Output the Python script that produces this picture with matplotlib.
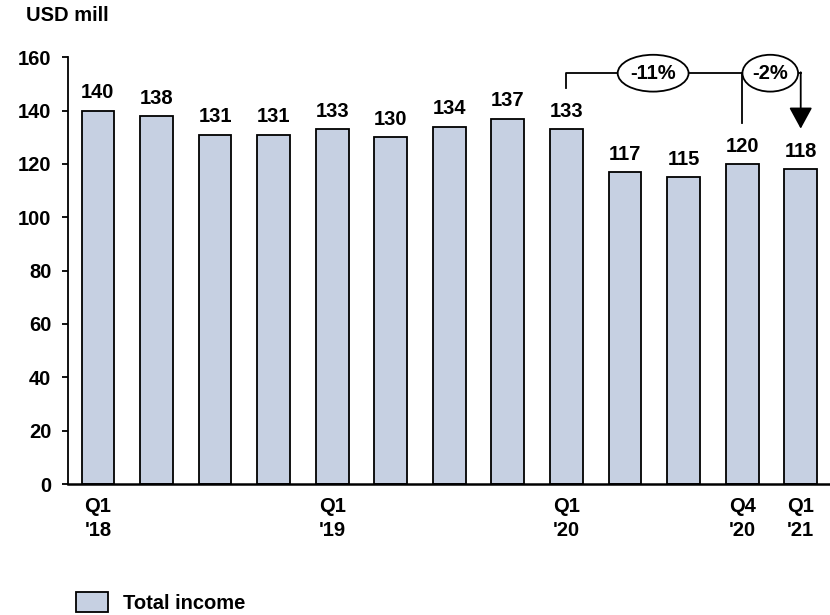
import matplotlib.pyplot as plt
from matplotlib.patches import Ellipse, Patch

plt.rcParams['font.family'] = ['Liberation Sans', 'DejaVu Sans']
plt.rcParams['font.weight'] = 'bold'

# Quarterly total income, Q1 2018 .. Q1 2021
quarters = ["Q1\n'18", "", "", "", "Q1\n'19", "", "", "", "Q1\n'20", "", "", "Q4\n'20", "Q1\n'21"]
income = [140, 138, 131, 131, 133, 130, 134, 137, 133, 117, 115, 120, 118]
changes = ["-11%", "-2%"]

FS = 14.5
BAR_COLOR = '#C6D0E2'

fig = plt.figure(figsize=(8.3, 6.15), dpi=100)
ax = fig.add_axes([0.082, 0.213, 0.918, 0.694])

x = range(len(income))
ax.bar(x, income, width=0.56, color=BAR_COLOR, edgecolor='black', linewidth=1.3)

for xi, v in zip(x, income):
    ax.annotate(str(v), (xi, v), xytext=(0, 6), textcoords='offset points',
                ha='center', va='bottom', fontsize=FS, fontweight='bold')

ax.set_ylim(0, 160)
ax.set_xlim(-0.51, 12.5)
ax.set_yticks(range(0, 161, 20))
ax.tick_params(axis='y', labelsize=FS, length=4, width=1.3, pad=8)
ax.set_xticks(list(x))
ax.set_xticklabels(quarters, fontsize=FS, fontweight='bold', linespacing=1.35)
ax.tick_params(axis='x', length=0, pad=9)

for s in ['top', 'right']:
    ax.spines[s].set_visible(False)
ax.spines['left'].set_linewidth(1.3)
ax.spines['bottom'].set_linewidth(1.8)

# Change brackets: Q1'20 -> Q1'21 and Q4'20 -> Q1'21
top = 154
ax.plot([8, 8, 12], [148.4, top, top], color='black', lw=1.3, clip_on=False)
ax.plot([11, 11], [top, 135.4], color='black', lw=1.3, clip_on=False)
ax.annotate('', xy=(12, 133.2), xytext=(12, top + 0.35),
            arrowprops=dict(arrowstyle='-|>,head_length=0.55,head_width=0.3',
                            color='black', lw=1.3,
                            mutation_scale=24, shrinkA=0, shrinkB=0))
for cx, w, txt in [(9.48, 1.21, changes[0]), (11.48, 0.95, changes[1])]:
    ax.add_patch(Ellipse((cx, top), w, 13.8, facecolor='white', edgecolor='black',
                         lw=1.3, clip_on=False, zorder=3))
    ax.text(cx, top, txt, ha='center', va='center', fontsize=FS,
            fontweight='bold', zorder=4)

fig.text(0.031, 0.975, 'USD mill', fontsize=FS, fontweight='bold', ha='left', va='center')

fig.legend(handles=[Patch(facecolor=BAR_COLOR, edgecolor='black', linewidth=1.3)],
           labels=['Total income'], loc='lower left', bbox_to_anchor=(0.092, 0.003),
           frameon=False, fontsize=FS, handlelength=1.55, handleheight=1.15,
           handletextpad=0.75, borderpad=0, borderaxespad=0)

fig.savefig('out.png', dpi=100)
